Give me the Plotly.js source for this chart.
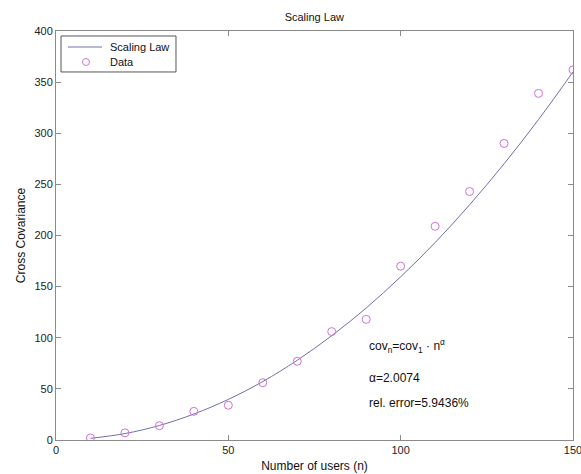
<!DOCTYPE html>
<html>
<head>
<meta charset="utf-8">
<script src="https://cdn.plot.ly/plotly-3.0.1.min.js"></script>
<style>html,body{margin:0;padding:0;background:#fff;}#chart{width:581px;height:474px;}</style>
</head>
<body>
<div id="chart"></div>
<script>
// Data
const users = [10, 20, 30, 40, 50, 60, 70, 80, 90, 100, 110, 120, 130, 140, 150];
const dataValues = [2, 7, 14, 28, 34, 56, 77, 106, 118, 170, 209, 243, 290, 339, 362];
const fitValues = [1.6, 6.3, 14.2, 25.4, 39.7, 57.2, 78.0, 102.0, 129.1, 159.6, 193.1, 230.0, 270.1, 313.4, 360.0];
const xTicks = [0, 50, 100, 150];
const yTicks = [0, 50, 100, 150, 200, 250, 300, 350, 400];
const seriesNames = ['Scaling Law', 'Data'];

const font = 'Liberation Sans, Arial, sans-serif';
const axisColor = '#8a8a8a';
const lineColor = '#6f6fae';
const markerColor = '#d070d8';

const traces = [
  {
    x: users, y: fitValues, type: 'scatter', mode: 'lines', name: seriesNames[0],
    line: {color: lineColor, width: 1, shape: 'spline'}
  },
  {
    x: users, y: dataValues, type: 'scatter', mode: 'markers', name: seriesNames[1],
    marker: {symbol: 'circle-open', size: 8, color: markerColor, line: {width: 1}}
  }
];

const axisCommon = {
  showgrid: false, zeroline: false, showline: true, mirror: 'ticks',
  linecolor: axisColor, linewidth: 1, ticks: 'inside', ticklen: 5,
  tickcolor: axisColor, tickfont: {family: font, size: 11, color: '#222'},
  automargin: false, ticklabeloverflow: 'allow'
};

const txt = {family: font, size: 11, color: '#111'};
const ann = {family: font, size: 12, color: '#111'};

const layout = {
  width: 581, height: 474,
  margin: {l: 56, r: 8, t: 31, b: 34},
  paper_bgcolor: '#fff', plot_bgcolor: '#fff',
  showlegend: false,
  title: {text: 'Scaling Law', font: txt, x: 0.541, xanchor: 'center', y: 0.964, yanchor: 'middle'},
  xaxis: Object.assign({}, axisCommon, {
    range: [0, 150], tickvals: xTicks, ticktext: xTicks.map(String),
    title: {text: 'Number of users (n)', font: ann, standoff: 6}
  }),
  yaxis: Object.assign({}, axisCommon, {
    range: [0, 400], tickvals: yTicks, ticktext: yTicks.map(String),
    title: {text: 'Cross Covariance', font: ann, standoff: 6}
  }),
  shapes: [
    // legend box
    {type: 'rect', xref: 'paper', yref: 'paper', x0: 0.0097, x1: 0.2321, y0: 0.8998, y1: 0.9878,
     line: {color: '#555', width: 1}, fillcolor: '#fff', layer: 'above'},
    // legend line sample
    {type: 'line', xref: 'paper', yref: 'paper', x0: 0.0232, x1: 0.0890, y0: 0.9609, y1: 0.9609,
     line: {color: lineColor, width: 1}, layer: 'above'},
    // legend marker sample
    {type: 'circle', xref: 'paper', yref: 'paper', xsizemode: 'pixel', ysizemode: 'pixel',
     xanchor: 0.058, yanchor: 0.9242, x0: -3.5, x1: 3.5, y0: -3.5, y1: 3.5,
     line: {color: markerColor, width: 1}, layer: 'above'}
  ],
  annotations: [
    {xref: 'paper', yref: 'paper', x: 0.1006, y: 0.9609, xanchor: 'left', yanchor: 'middle', showarrow: false,
     text: seriesNames[0], font: txt},
    {xref: 'paper', yref: 'paper', x: 0.1006, y: 0.9242, xanchor: 'left', yanchor: 'middle', showarrow: false,
     text: seriesNames[1], font: txt},
    {xref: 'paper', yref: 'paper', x: 0.602, y: 0.229, xanchor: 'left', yanchor: 'middle', showarrow: false,
     text: 'cov<sub>n</sub>=cov<sub>1</sub> · n<sup>α</sup>', font: ann},
    {xref: 'paper', yref: 'paper', x: 0.602, y: 0.152, xanchor: 'left', yanchor: 'middle', showarrow: false,
     text: 'α=2.0074', font: ann},
    {xref: 'paper', yref: 'paper', x: 0.602, y: 0.090, xanchor: 'left', yanchor: 'middle', showarrow: false,
     text: 'rel. error=5.9436%', font: ann}
  ]
};

Plotly.newPlot('chart', traces, layout, {displayModeBar: false, staticPlot: true});
</script>
</body>
</html>
